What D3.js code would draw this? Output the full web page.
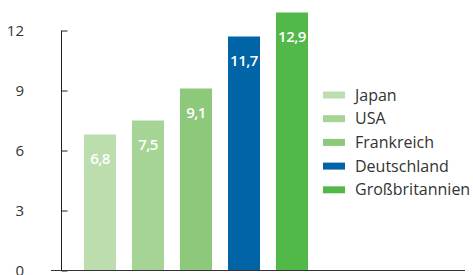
<!DOCTYPE html>
<html><head><meta charset="utf-8">
<script src="https://cdn.jsdelivr.net/npm/d3@7"></script>
<style>body{margin:0;background:#fff}svg{display:block}</style>
</head><body>
<svg id="c" width="473" height="275"></svg>
<script>
const categories = ["Japan", "USA", "Frankreich", "Deutschland", "Großbritannien"];
const values = [6.8, 7.5, 9.1, 11.7, 12.9];
const colors = ["#bcdeae", "#a6d494", "#8cc97a", "#0064a6", "#52b848"];
const yTicks = [0, 3, 6, 9, 12];
const fmt = v => String(v).replace(".", ",");

const svg = d3.select("#c");
const font = "'Open Sans', sans-serif";
const y = d3.scaleLinear().domain([0, 12]).range([270.5, 30.5]);
const x = d3.scaleBand().domain(categories).range([76, 316]).paddingInner(1/3).paddingOuter(1/6);

// bars
svg.selectAll("rect.bar").data(values).join("rect")
  .attr("x", (d, i) => x(categories[i]))
  .attr("y", d => y(d))
  .attr("width", x.bandwidth())
  .attr("height", d => y(0) - y(d))
  .attr("fill", (d, i) => colors[i]);

svg.selectAll("text.val").data(values).join("text")
  .attr("x", (d, i) => x(categories[i]) + x.bandwidth() / 2)
  .attr("y", d => y(d) + 29)
  .attr("text-anchor", "middle")
  .attr("fill", "#fff")
  .attr("font-family", font)
  .attr("font-weight", 600)
  .attr("font-size", 15)
  .attr("letter-spacing", -0.5)
  .text(d => fmt(d));

// y axis
const yAxis = d3.axisRight(y).tickValues(yTicks).tickSize(6).tickFormat("");
const ga = svg.append("g").attr("transform", "translate(61.5,0)").call(yAxis);
ga.select(".domain").attr("stroke", "#222").attr("d", "M0,30.5V270.5");
ga.selectAll(".tick line").attr("stroke", "#222");
svg.selectAll("text.yl").data(yTicks).join("text")
  .attr("x", 24).attr("y", d => y(d) + 5)
  .attr("text-anchor", "end")
  .attr("fill", "#333")
  .attr("font-family", font)
  .attr("font-size", 15)
  .text(d => d);

// x baseline
svg.append("line").attr("x1", 51).attr("x2", 465).attr("y1", y(0)).attr("y2", y(0))
  .attr("stroke", "#333").attr("stroke-width", 1);

// legend
const lg = svg.append("g");
categories.forEach((c, i) => {
  const cy = 95 + i * 23.7;
  lg.append("rect").attr("x", 323).attr("y", cy - 3.5).attr("width", 22).attr("height", 7).attr("fill", colors[i]);
  lg.append("text").attr("x", 355).attr("y", cy + 5.5)
    .attr("fill", "#333").attr("font-family", font).attr("font-size", 16)
    .text(c);
});
</script>
</body></html>
